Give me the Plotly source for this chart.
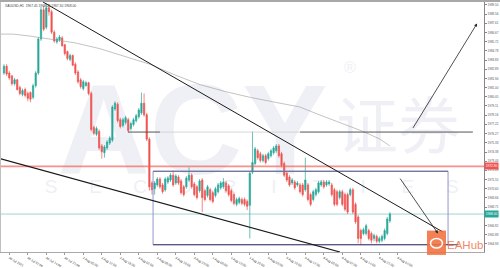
import plotly.graph_objects as go

# ---- candle data (H1 bars) ----
opens = [1982.5, 1983.2, 1982.5, 1982.2, 1981.4, 1981.8, 1981.0, 1980.3, 1980.8, 1980.4,
         1980.5, 1980.0, 1981.2, 1982.5, 1986.0, 1989.0, 1987.2, 1989.2, 1988.8, 1986.7,
         1985.7, 1985.9, 1986.1, 1985.4, 1984.7, 1983.9, 1984.3, 1983.4, 1982.6, 1981.8,
         1980.9, 1981.2, 1981.5, 1980.4, 1976.9, 1976.2, 1976.5, 1975.0, 1974.3, 1974.8,
         1975.3, 1975.6, 1978.8, 1979.3, 1977.7, 1977.1, 1977.4, 1977.7, 1976.8, 1977.2,
         1977.6, 1978.0, 1978.4, 1979.4, 1978.2, 1975.7, 1971.2, 1970.6, 1971.0, 1971.6,
         1971.0, 1970.5, 1971.3, 1971.5, 1972.0, 1971.2, 1971.8, 1971.4, 1970.8, 1970.8,
         1971.5, 1972.0, 1971.1, 1970.8, 1970.4, 1971.5, 1970.4, 1969.9, 1970.5, 1970.2,
         1969.9, 1970.3, 1970.7, 1970.8, 1971.2, 1970.9, 1970.4, 1970.0, 1969.0, 1969.2,
         1969.5, 1969.5, 1969.3, 1968.9, 1972.3, 1973.2, 1974.5, 1974.2, 1973.5, 1974.0,
         1973.7, 1974.0, 1974.3, 1974.5, 1975.0, 1974.2, 1973.2, 1972.2, 1971.8, 1971.2,
         1971.3, 1971.0, 1971.0, 1971.0, 1970.5, 1971.0, 1970.0, 1969.5, 1970.0, 1970.3,
         1971.0, 1971.3, 1971.0, 1971.1, 1971.0, 1970.5, 1970.3, 1969.7, 1970.3, 1970.0,
         1970.0, 1970.0, 1970.5, 1969.0, 1967.7, 1966.3, 1966.0, 1966.0, 1966.3, 1966.0,
         1965.5, 1965.7, 1965.2, 1965.3, 1965.5, 1966.0, 1967.3]
highs = [1983.4, 1983.4, 1982.7, 1982.3, 1982.0, 1981.9, 1981.2, 1980.9, 1981.0, 1980.6,
         1980.6, 1981.4, 1982.7, 1986.2, 1989.3, 1989.4, 1989.7, 1989.6, 1989.0, 1986.9,
         1986.2, 1986.4, 1986.3, 1985.5, 1984.8, 1984.5, 1984.4, 1983.6, 1982.8, 1982.0,
         1981.8, 1981.7, 1981.6, 1980.6, 1977.1, 1977.0, 1976.7, 1975.2, 1975.1, 1975.6,
         1976.0, 1979.2, 1979.6, 1979.5, 1977.9, 1977.9, 1978.1, 1977.9, 1977.5, 1977.9,
         1978.3, 1978.9, 1980.5, 1980.4, 1978.4, 1975.9, 1971.4, 1971.4, 1971.8, 1971.8,
         1971.2, 1971.8, 1971.9, 1972.2, 1972.5, 1972.1, 1972.0, 1971.6, 1971.0, 1971.9,
         1972.8, 1972.2, 1971.3, 1971.0, 1971.6, 1971.7, 1970.6, 1971.0, 1970.7, 1970.4,
         1970.8, 1971.2, 1971.4, 1971.7, 1971.4, 1971.1, 1970.6, 1970.2, 1969.7, 1969.8,
         1969.7, 1969.7, 1969.5, 1972.4, 1976.5, 1974.9, 1974.7, 1974.4, 1974.2, 1974.2,
         1974.4, 1974.7, 1975.0, 1975.2, 1975.2, 1974.4, 1973.4, 1972.4, 1972.0, 1971.7,
         1971.5, 1971.4, 1971.2, 1971.2, 1973.8, 1971.2, 1970.2, 1970.5, 1970.7, 1971.4,
         1971.5, 1971.5, 1971.5, 1971.5, 1971.2, 1970.7, 1970.5, 1970.5, 1970.5, 1970.2,
         1970.2, 1970.7, 1970.7, 1969.2, 1967.9, 1966.5, 1966.6, 1967.0, 1966.5, 1966.2,
         1966.0, 1965.9, 1965.7, 1965.9, 1966.5, 1967.7, 1968.2]
lows = [1982.3, 1982.2, 1981.8, 1981.2, 1981.2, 1980.7, 1980.2, 1980.1, 1980.0, 1979.6,
        1979.5, 1979.8, 1981.0, 1982.3, 1985.8, 1986.8, 1987.0, 1988.4, 1986.5, 1985.6,
        1985.5, 1985.7, 1985.2, 1984.3, 1983.8, 1983.7, 1983.2, 1982.3, 1981.4, 1980.9,
        1980.7, 1981.1, 1980.2, 1976.5, 1976.1, 1976.0, 1974.6, 1973.7, 1973.8, 1974.6,
        1975.1, 1975.4, 1978.6, 1977.4, 1976.8, 1976.9, 1977.2, 1976.4, 1976.6, 1977.0,
        1977.4, 1977.8, 1978.2, 1978.0, 1975.5, 1970.4, 1970.0, 1970.0, 1970.8, 1970.6,
        1970.1, 1970.3, 1971.1, 1971.3, 1970.8, 1971.0, 1971.0, 1970.0, 1969.8, 1970.6,
        1971.3, 1970.6, 1969.8, 1969.5, 1970.2, 1968.2, 1969.3, 1969.7, 1969.3, 1969.1,
        1969.7, 1970.1, 1970.5, 1970.6, 1970.2, 1969.8, 1969.2, 1968.9, 1968.8, 1969.0,
        1968.9, 1968.8, 1968.4, 1965.5, 1972.1, 1973.0, 1973.6, 1973.3, 1973.3, 1973.1,
        1973.5, 1973.8, 1974.1, 1974.3, 1973.8, 1972.8, 1971.8, 1971.3, 1970.8, 1971.0,
        1970.5, 1970.8, 1970.1, 1969.8, 1970.3, 1969.3, 1968.8, 1969.3, 1969.8, 1970.1,
        1970.8, 1970.6, 1970.8, 1970.9, 1969.8, 1968.8, 1968.8, 1969.5, 1968.8, 1968.3,
        1968.0, 1969.8, 1968.0, 1967.0, 1965.0, 1964.8, 1965.8, 1965.8, 1965.3, 1965.0,
        1965.2, 1965.0, 1965.0, 1965.1, 1965.3, 1965.8, 1967.1]
closes = [1983.2, 1982.4, 1982.0, 1981.4, 1981.8, 1980.8, 1980.4, 1980.7, 1980.2, 1979.9,
          1979.8, 1981.2, 1982.5, 1986.0, 1989.0, 1987.0, 1989.2, 1988.8, 1986.7, 1985.8,
          1986.0, 1986.2, 1985.3, 1984.5, 1984.0, 1984.3, 1983.3, 1982.5, 1981.6, 1981.1,
          1981.6, 1981.5, 1980.4, 1976.7, 1976.3, 1976.8, 1974.8, 1974.4, 1974.9, 1975.4,
          1975.8, 1979.0, 1979.4, 1977.6, 1977.0, 1977.7, 1977.9, 1976.6, 1977.3, 1977.7,
          1978.1, 1978.7, 1979.4, 1978.2, 1975.7, 1970.8, 1970.5, 1971.2, 1971.6, 1970.8,
          1970.3, 1971.6, 1971.7, 1972.0, 1971.0, 1971.9, 1971.2, 1970.2, 1970.0, 1971.7,
          1972.0, 1970.8, 1970.0, 1969.7, 1971.4, 1969.7, 1969.5, 1970.8, 1969.5, 1969.3,
          1970.6, 1971.0, 1971.2, 1971.3, 1970.4, 1970.0, 1969.4, 1969.1, 1969.5, 1969.6,
          1969.1, 1969.0, 1968.8, 1972.2, 1973.3, 1974.7, 1973.8, 1973.5, 1974.0, 1973.3,
          1974.2, 1974.5, 1974.8, 1975.0, 1974.0, 1973.0, 1972.0, 1971.5, 1971.0, 1971.5,
          1970.7, 1971.2, 1970.3, 1970.0, 1971.5, 1969.5, 1969.0, 1970.3, 1970.5, 1971.2,
          1971.3, 1970.8, 1971.3, 1971.3, 1970.0, 1969.0, 1969.0, 1970.3, 1969.0, 1968.5,
          1968.2, 1970.5, 1968.2, 1967.2, 1965.5, 1965.5, 1966.4, 1966.8, 1965.5, 1965.3,
          1965.8, 1965.2, 1965.5, 1965.7, 1966.3, 1967.5, 1968.0]
bar_index = list(range(len(closes)))

# ---- time axis labels ----
time_tick_bars = [2, 9, 16, 23, 30, 37, 44, 51, 58, 65, 72, 79, 86, 93, 100, 107, 114, 121,
                  128, 135, 142, 149]
time_tick_labels = ["30 Jul 2021", "30 Jul 07:00", "30 Jul 14:00", "30 Jul 21:00",
                    "2 Aug 05:00", "2 Aug 12:00", "2 Aug 19:00", "3 Aug 02:00",
                    "3 Aug 09:00", "3 Aug 16:00", "3 Aug 23:00", "4 Aug 06:00",
                    "4 Aug 13:00", "4 Aug 20:00", "5 Aug 03:00", "5 Aug 10:00",
                    "5 Aug 17:00", "6 Aug 00:00", "6 Aug 07:00", "6 Aug 14:00",
                    "6 Aug 21:00", "9 Aug 04:00"]

# ---- price axis labels ----
price_ticks = [1989.50, 1988.56, 1987.61, 1986.67, 1985.72, 1984.78, 1983.83, 1982.89,
               1981.94, 1981.00, 1980.05, 1979.11, 1978.16, 1977.22, 1976.27, 1975.33,
               1974.38, 1973.44, 1972.49, 1971.55, 1970.60, 1969.66, 1968.71, 1967.77,
               1966.82, 1965.88, 1964.93]

# ---- moving average (read at sample bars) ----
ma_bars = [-1.5, 3.4, 9.8, 17.4, 26.9, 36.3, 45.8, 55.2, 64.7, 74.2, 83.6, 93.1, 102.5,
           112.0, 118.4, 127.1, 135.8, 142.3, 146.0]
ma_values = [1986.5, 1986.5, 1986.3, 1986.0, 1985.6, 1985.0, 1984.2, 1983.4, 1982.3,
             1981.3, 1980.6, 1980.0, 1979.5, 1979.0, 1978.3, 1977.4, 1976.5, 1975.7, 1975.0]

# ---- drawn objects (bar index, price) ----
resistance_level = 1972.9
bid_price = 1968.0
gray_level = 1976.43
gray_level_dark_a = [46.9, 59.0]
gray_level_light = [59.0, 112.0]
gray_level_dark_b = [112.0, 177.4]
upper_trend_bars = [14.76, 166.1]
upper_trend_prices = [1989.8, 1966.15]
lower_trend_bars = [-1.51, 127.1]
lower_trend_prices = [1973.7, 1964.1]
box_bars = [56.4, 168.0]
box_prices = [1964.85, 1972.4]
up_arrow_bars = [154.4, 179.0]
up_arrow_prices = [1976.7, 1987.6]
down_arrow_bars = [149.5, 164.2]
down_arrow_prices = [1971.8, 1966.0]

X_RANGE = [-1.513, 181.6]
Y_RANGE = [1964.1, 1989.8]

PLOT_W = 484.0
PLOT_H = 257.0


def px_x(x):
    return x / PLOT_W


def px_y(y):
    return (259.0 - y) / PLOT_H


fig = go.Figure()

fig.add_trace(go.Scatter(x=ma_bars, y=ma_values, mode="lines",
                         line=dict(color="#9a9a9a", width=0.6),
                         hoverinfo="skip", showlegend=False))

fig.add_trace(go.Candlestick(
    x=bar_index, open=opens, high=highs, low=lows, close=closes,
    increasing=dict(line=dict(color="#26a69a", width=0.7), fillcolor="#26a69a"),
    decreasing=dict(line=dict(color="#ef5350", width=0.7), fillcolor="#ef5350"),
    whiskerwidth=0, showlegend=False, hoverinfo="skip"))

shapes = []

# watermark (below traces)
wm_color = "#eef0f5"
shapes.append(dict(type="rect", xref="paper", yref="paper", layer="below",
                   x0=px_x(40), x1=px_x(345), y0=px_y(170), y1=px_y(72),
                   line=dict(width=0), fillcolor="rgba(0,0,0,0)",
                   label=dict(text="<b>ACY</b>", textposition="middle center",
                              font=dict(size=128, color=wm_color,
                                        family="Liberation Sans"))))
shapes.append(dict(type="rect", xref="paper", yref="paper", layer="below",
                   x0=px_x(340), x1=px_x(360), y0=px_y(77), y1=px_y(57),
                   line=dict(width=0), fillcolor="rgba(0,0,0,0)",
                   label=dict(text="®", textposition="middle center",
                              font=dict(size=16, color=wm_color,
                                        family="Liberation Sans"))))
shapes.append(dict(type="rect", xref="paper", yref="paper", layer="below",
                   x0=px_x(330), x1=px_x(466), y0=px_y(170), y1=px_y(102),
                   line=dict(width=0), fillcolor="rgba(0,0,0,0)",
                   label=dict(text="证券", textposition="middle center",
                              font=dict(size=62, color=wm_color,
                                        family="Noto Sans CJK SC"))))
for k, letter in enumerate("SECURITIES"):
    cx = 51 + 44.6 * k
    shapes.append(dict(type="rect", xref="paper", yref="paper", layer="below",
                       x0=px_x(cx - 12), x1=px_x(cx + 12), y0=px_y(202), y1=px_y(178),
                       line=dict(width=0), fillcolor="rgba(0,0,0,0)",
                       label=dict(text=letter, textposition="middle center",
                                  font=dict(size=19, color=wm_color,
                                            family="Liberation Sans"))))

# horizontal levels
shapes.append(dict(type="line", xref="paper", yref="y", x0=0, x1=1,
                   y0=resistance_level, y1=resistance_level,
                   line=dict(color="rgba(239,100,90,0.7)", width=1.8)))
shapes.append(dict(type="line", xref="paper", yref="y", x0=0, x1=1,
                   y0=bid_price, y1=bid_price,
                   line=dict(color="rgba(38,166,154,0.5)", width=0.9)))
shapes.append(dict(type="line", xref="x", yref="y", x0=gray_level_light[0],
                   x1=gray_level_light[1], y0=gray_level, y1=gray_level,
                   line=dict(color="#cccccc", width=0.8)))
for seg in (gray_level_dark_a, gray_level_dark_b):
    shapes.append(dict(type="line", xref="x", yref="y", x0=seg[0], x1=seg[1],
                       y0=gray_level, y1=gray_level,
                       line=dict(color="#555555", width=1)))

# range box
shapes.append(dict(type="rect", xref="x", yref="y", x0=box_bars[0], x1=box_bars[1],
                   y0=box_prices[0], y1=box_prices[1],
                   line=dict(color="#9494cc", width=1), fillcolor="rgba(0,0,0,0)"))
shapes.append(dict(type="line", xref="x", yref="y", x0=box_bars[0], x1=box_bars[1],
                   y0=box_prices[1], y1=box_prices[1],
                   line=dict(color="#666688", width=1)))
shapes.append(dict(type="line", xref="x", yref="y", x0=box_bars[0], x1=box_bars[1] + 4,
                   y0=box_prices[0], y1=box_prices[0],
                   line=dict(color="#404068", width=1.1)))

# trend lines
shapes.append(dict(type="line", xref="x", yref="y",
                   x0=upper_trend_bars[0], x1=upper_trend_bars[1],
                   y0=upper_trend_prices[0], y1=upper_trend_prices[1],
                   line=dict(color="#1a1a1a", width=1.0)))
shapes.append(dict(type="line", xref="x", yref="y",
                   x0=lower_trend_bars[0], x1=lower_trend_bars[1],
                   y0=lower_trend_prices[0], y1=lower_trend_prices[1],
                   line=dict(color="#1a1a1a", width=1.2)))

# frame
shapes.append(dict(type="line", xref="paper", yref="paper", x0=0, x1=1.04,
                   y0=px_y(1), y1=px_y(1), line=dict(color="#a8a8a8", width=2)))
shapes.append(dict(type="line", xref="paper", yref="paper", x0=px_x(0.5), x1=px_x(0.5),
                   y0=px_y(2), y1=px_y(259), line=dict(color="#c0c0c0", width=1)))

# EAHub logo icon
shapes.append(dict(type="rect", xref="paper", yref="paper",
                   x0=px_x(427), x1=px_x(446), y0=px_y(262), y1=px_y(237),
                   line=dict(width=0), fillcolor="rgba(242,112,62,0.88)"))
shapes.append(dict(type="circle", xref="paper", yref="paper",
                   x0=px_x(430.5), x1=px_x(442.5), y0=px_y(255), y1=px_y(245),
                   line=dict(color="white", width=1.5), fillcolor="rgba(0,0,0,0)"))

annotations = []
annotations.append(dict(xref="x", yref="y", axref="x", ayref="y",
                        x=up_arrow_bars[1], y=up_arrow_prices[1],
                        ax=up_arrow_bars[0], ay=up_arrow_prices[0],
                        text="", showarrow=True, arrowhead=2, arrowsize=0.8,
                        arrowwidth=0.8, arrowcolor="#222"))
annotations.append(dict(xref="x", yref="y", axref="x", ayref="y",
                        x=down_arrow_bars[1], y=down_arrow_prices[1],
                        ax=down_arrow_bars[0], ay=down_arrow_prices[0],
                        text="", showarrow=True, arrowhead=2, arrowsize=0.8,
                        arrowwidth=0.8, arrowcolor="#222"))
annotations.append(dict(xref="paper", yref="y", x=1, y=resistance_level,
                        xanchor="left", yanchor="middle", showarrow=False,
                        text=f"{resistance_level:.2f}", bgcolor="#ef5350",
                        font=dict(size=3.2, color="white", family="Liberation Sans"),
                        borderpad=0.8))
annotations.append(dict(xref="paper", yref="y", x=1, y=bid_price,
                        xanchor="left", yanchor="middle", showarrow=False,
                        text=f"{bid_price:.2f}", bgcolor="#26a69a",
                        font=dict(size=3.2, color="white", family="Liberation Sans"),
                        borderpad=0.8))
annotations.append(dict(xref="paper", yref="paper", x=px_x(3), y=px_y(2.5),
                        xanchor="left", yanchor="top", showarrow=False,
                        text="XAUUSD,H1  1967.45 1968.20 1967.30 1968.00",
                        font=dict(size=3.3, color="#444", family="Liberation Sans")))
annotations.append(dict(xref="paper", yref="paper", x=px_x(465), y=px_y(251.5),
                        xanchor="center", yanchor="middle", showarrow=False,
                        text="EAHub",
                        font=dict(size=11.5, color="rgba(240,112,72,0.85)",
                                  family="Liberation Sans")))

fig.update_layout(
    width=500, height=268,
    margin=dict(l=0, r=16, t=2, b=9),
    paper_bgcolor="white", plot_bgcolor="white",
    showlegend=False,
    shapes=shapes, annotations=annotations,
    xaxis=dict(range=X_RANGE, showgrid=False, zeroline=False,
               tickvals=time_tick_bars, ticktext=time_tick_labels,
               tickfont=dict(size=3.2, color="#333", family="Liberation Sans"),
               ticks="outside", ticklen=2, tickcolor="#999",
               showline=True, linecolor="#aaaaaa", linewidth=1,
               rangeslider=dict(visible=False), fixedrange=True),
    yaxis=dict(range=Y_RANGE, side="right", showgrid=False, zeroline=False,
               tickvals=price_ticks, ticktext=[f"{v:.2f}" for v in price_ticks],
               tickfont=dict(size=3, color="#555", family="Liberation Sans"),
               ticks="outside", ticklen=2, tickcolor="#888",
               showline=True, linecolor="#888888", linewidth=1, fixedrange=True),
)

fig.write_html("out.html")
